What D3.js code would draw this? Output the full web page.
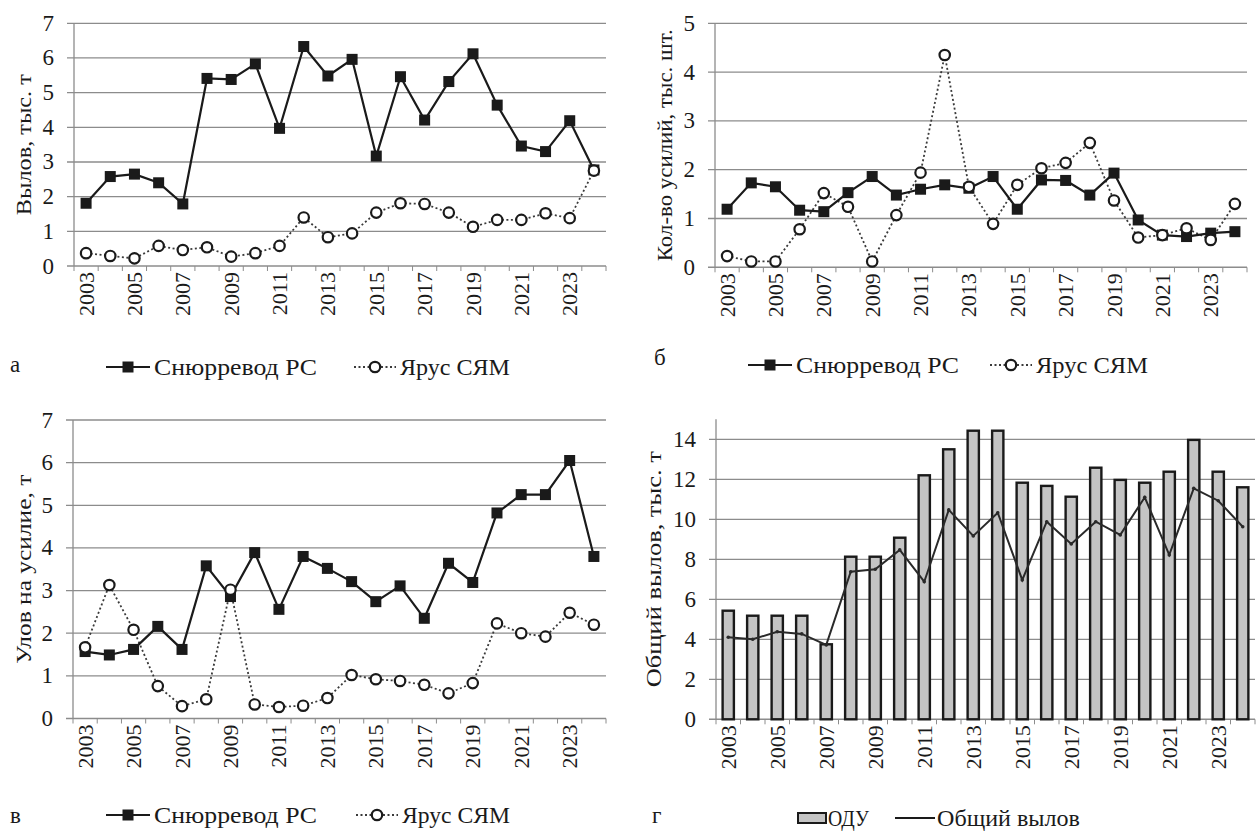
<!DOCTYPE html>
<html>
<head>
<meta charset="utf-8">
<script src="https://cdn.jsdelivr.net/npm/d3@7"></script>
<style>
  html, body { margin: 0; padding: 0; background: #ffffff; }
  svg { display: block; }
</style>
</head>
<body>
<svg id="chart" width="1260" height="832"></svg>
<script>
// Years on the category axis
const years = [2003, 2004, 2005, 2006, 2007, 2008, 2009, 2010, 2011, 2012, 2013,
               2014, 2015, 2016, 2017, 2018, 2019, 2020, 2021, 2022, 2023, 2024];
const yearLabels = ["2003", "2005", "2007", "2009", "2011", "2013", "2015", "2017", "2019", "2021", "2023"];

// а — catch, thousand t
const catchSnurr    = [1.81, 2.58, 2.65, 2.40, 1.79, 5.41, 5.38, 5.83, 3.97, 6.33, 5.48,
                       5.96, 3.17, 5.46, 4.21, 5.32, 6.12, 4.64, 3.46, 3.30, 4.19, 2.77];
const catchLongline = [0.37, 0.29, 0.22, 0.58, 0.46, 0.54, 0.27, 0.37, 0.58, 1.40, 0.83,
                       0.94, 1.54, 1.81, 1.79, 1.54, 1.13, 1.33, 1.33, 1.52, 1.38, 2.75];

// б — number of fishing efforts, thousand
const effortSnurr    = [1.19, 1.73, 1.65, 1.17, 1.14, 1.53, 1.86, 1.48, 1.60, 1.69, 1.62,
                        1.86, 1.19, 1.79, 1.78, 1.48, 1.93, 0.97, 0.66, 0.63, 0.70, 0.73];
const effortLongline = [0.23, 0.12, 0.12, 0.78, 1.52, 1.24, 0.12, 1.07, 1.94, 4.35, 1.65,
                        0.89, 1.69, 2.03, 2.14, 2.55, 1.37, 0.61, 0.66, 0.80, 0.56, 1.30];

// в — catch per effort, t
const cpueSnurr    = [1.57, 1.49, 1.62, 2.16, 1.62, 3.58, 2.86, 3.89, 2.56, 3.80, 3.52,
                      3.21, 2.74, 3.11, 2.35, 3.64, 3.19, 4.82, 5.25, 5.25, 6.05, 3.80];
const cpueLongline = [1.67, 3.13, 2.08, 0.76, 0.29, 0.45, 3.02, 0.33, 0.27, 0.30, 0.48,
                      1.02, 0.92, 0.88, 0.79, 0.59, 0.83, 2.23, 2.00, 1.92, 2.48, 2.20];

// г — TAC and total catch, thousand t
const tac        = [5.43, 5.18, 5.18, 5.18, 3.75, 8.13, 8.13, 9.08, 12.2, 13.5, 14.43,
                    14.43, 11.83, 11.67, 11.13, 12.58, 11.97, 11.83, 12.38, 13.97, 12.38, 11.6];
const totalCatch = [4.10, 4.00, 4.38, 4.27, 3.72, 7.38, 7.50, 8.47, 6.88, 10.47, 9.17,
                    10.33, 6.97, 9.88, 8.77, 9.88, 9.22, 11.10, 8.22, 11.55, 10.93, 9.63];

const seriesNames = ["Снюрревод РС", "Ярус СЯМ"];
const barNames = ["ОДУ", "Общий вылов"];

const FONT = '"Liberation Serif"';
const svg = d3.select("#chart");
const GRID = "#8c8c8c";
const INK = "#1a1a1a";

function label(sel, size) {
  return sel.style("font-family", FONT).attr("font-size", size).attr("fill", INK);
}
function stretch(sel, len) {
  if (len) sel.attr("textLength", len).attr("lengthAdjust", "spacingAndGlyphs");
  return sel;
}

function frame(p) {
  const g = svg.append("g");
  const x = d3.scaleBand().domain(years).range([p.x0, p.x1]).paddingInner(p.pad || 0).paddingOuter((p.pad || 0) / 2);
  const xb = d3.scaleBand().domain(years).range([p.x0, p.x1]);
  const y = d3.scaleLinear().domain([0, p.max]).range([p.y0, p.y1]);

  // horizontal gridlines (with outside ticks)
  g.selectAll("line.grid").data(p.ticks.filter(t => t > 0)).join("line")
    .attr("x1", p.x0 - 7).attr("x2", p.x1)
    .attr("y1", d => y(d)).attr("y2", d => y(d))
    .attr("stroke", GRID).attr("stroke-width", 1.3);

  // value axis
  g.append("line").attr("x1", p.x0).attr("x2", p.x0)
    .attr("y1", y(p.max)).attr("y2", p.y0)
    .attr("stroke", GRID).attr("stroke-width", 1.3);
  // category axis
  g.append("line").attr("x1", p.x0 - 7).attr("x2", p.x1)
    .attr("y1", p.y0).attr("y2", p.y0)
    .attr("stroke", GRID).attr("stroke-width", 1.5);
  // tick marks between categories
  const bounds = years.map(yr => xb(yr)).concat([p.x1]);
  g.selectAll("line.tick").data(bounds).join("line")
    .attr("x1", d => d).attr("x2", d => d)
    .attr("y1", p.y0).attr("y2", p.y0 + 5)
    .attr("stroke", GRID).attr("stroke-width", 1);

  // value tick labels
  label(g.selectAll("text.yt").data(p.ticks).join("text"), 23)
    .attr("x", p.x0 - 20).attr("y", d => y(d))
    .attr("text-anchor", "end").attr("dominant-baseline", "central")
    .text(d => d);

  // year labels, rotated
  label(g.selectAll("text.xt").data(yearLabels).join("text"), 22)
    .attr("transform", d => `translate(${xb(+d) + xb.bandwidth() / 2},${p.y0 + 6}) rotate(-90)`)
    .attr("text-anchor", "end").attr("dominant-baseline", "central")
    .text(d => d);

  // axis title
  stretch(label(g.append("text"), 22), p.titleLen)
    .attr("transform", `translate(${p.titleX},${(p.y0 + y(p.max)) / 2}) rotate(-90)`)
    .attr("text-anchor", "middle").attr("dominant-baseline", "central")
    .text(p.title);

  // panel letter
  label(g.append("text"), 23).attr("x", p.letterX).attr("y", p.letterY)
    .attr("dominant-baseline", "central").text(p.letter);

  return { g, x, xb, y };
}

function linePanel(p, snurr, longline) {
  const { g, xb, y } = frame(p);
  const cx = i => xb(years[i]) + xb.bandwidth() / 2;
  const line = d3.line().x((d, i) => cx(i)).y(d => y(d));

  g.append("path").datum(longline).attr("d", line)
    .attr("fill", "none").attr("stroke", "#3a3a3a").attr("stroke-width", 1.8)
    .attr("stroke-dasharray", "2,2.5");
  g.append("path").datum(snurr).attr("d", line)
    .attr("fill", "none").attr("stroke", INK).attr("stroke-width", 2.2);

  g.selectAll("rect.m").data(snurr).join("rect")
    .attr("x", (d, i) => cx(i) - 5.5).attr("y", d => y(d) - 5.5)
    .attr("width", 11).attr("height", 11).attr("fill", INK);
  g.selectAll("circle.m").data(longline).join("circle")
    .attr("cx", (d, i) => cx(i)).attr("cy", d => y(d)).attr("r", 5.2)
    .attr("fill", "#fff").attr("stroke", INK).attr("stroke-width", 2.2);

  // legend
  const ly = p.legendY, L = p.legend;
  g.append("line").attr("x1", L[0]).attr("x2", L[0] + 44).attr("y1", ly).attr("y2", ly)
    .attr("stroke", INK).attr("stroke-width", 2.2);
  g.append("rect").attr("x", L[0] + 22 - 5.5).attr("y", ly - 5.5).attr("width", 11).attr("height", 11).attr("fill", INK);
  stretch(label(g.append("text"), 23), p.legendLen[0])
    .attr("x", L[0] + 48).attr("y", ly).attr("dominant-baseline", "central")
    .text(seriesNames[0]);
  g.append("line").attr("x1", L[1]).attr("x2", L[1] + 42).attr("y1", ly).attr("y2", ly)
    .attr("stroke", "#3a3a3a").attr("stroke-width", 1.8).attr("stroke-dasharray", "2,2.5");
  g.append("circle").attr("cx", L[1] + 21).attr("cy", ly).attr("r", 5.2)
    .attr("fill", "#fff").attr("stroke", INK).attr("stroke-width", 2.2);
  stretch(label(g.append("text"), 23), p.legendLen[1])
    .attr("x", L[1] + 46).attr("y", ly).attr("dominant-baseline", "central")
    .text(seriesNames[1]);
}

function barPanel(p, bars, total) {
  const { g, x, xb, y } = frame(p);
  const cx = i => xb(years[i]) + xb.bandwidth() / 2;

  g.selectAll("rect.bar").data(bars).join("rect")
    .attr("x", (d, i) => x(years[i])).attr("width", x.bandwidth())
    .attr("y", d => y(d)).attr("height", d => p.y0 - y(d))
    .attr("fill", "#c4c4c4").attr("stroke", INK).attr("stroke-width", 2.4);

  g.append("path").datum(total)
    .attr("d", d3.line().x((d, i) => cx(i)).y(d => y(d)))
    .attr("fill", "none").attr("stroke", "#2a2a2a").attr("stroke-width", 2);
  g.selectAll("circle.pt").data(total).join("circle")
    .attr("cx", (d, i) => cx(i)).attr("cy", d => y(d)).attr("r", 1.8).attr("fill", "#2a2a2a");

  // legend
  const ly = p.legendY, L = p.legend;
  g.append("rect").attr("x", L[0]).attr("y", ly - 5).attr("width", 28).attr("height", 10)
    .attr("fill", "#c4c4c4").attr("stroke", INK).attr("stroke-width", 2);
  stretch(label(g.append("text"), 23), p.legendLen[0])
    .attr("x", L[0] + 30).attr("y", ly).attr("dominant-baseline", "central")
    .text(barNames[0]);
  g.append("line").attr("x1", L[1]).attr("x2", L[1] + 40).attr("y1", ly).attr("y2", ly)
    .attr("stroke", INK).attr("stroke-width", 2);
  stretch(label(g.append("text"), 23), p.legendLen[1])
    .attr("x", L[1] + 42).attr("y", ly).attr("dominant-baseline", "central")
    .text(barNames[1]);
}

linePanel({
  x0: 74, x1: 606, y0: 266, y1: 23.3, max: 7, ticks: [0, 1, 2, 3, 4, 5, 6, 7],
  title: "Вылов, тыс. т", titleX: 23, titleLen: 141, letter: "а", letterX: 10, letterY: 364,
  legendY: 367, legend: [106, 354], legendLen: [163, 110]
}, catchSnurr, catchLongline);

linePanel({
  x0: 715, x1: 1247, y0: 267.3, y1: 23.3, max: 5, ticks: [0, 1, 2, 3, 4, 5],
  title: "Кол-во  усилий, тыс. шт.", titleX: 664, titleLen: 232, letter: "б", letterX: 654, letterY: 357,
  legendY: 365, legend: [748, 990], legendLen: [163, 112]
}, effortSnurr, effortLongline);

linePanel({
  x0: 73, x1: 606, y0: 718.5, y1: 420, max: 7, ticks: [0, 1, 2, 3, 4, 5, 6, 7],
  title: "Улов на усилие, т", titleX: 23, titleLen: 189, letter: "в", letterX: 10, letterY: 815,
  legendY: 815, legend: [106, 356], legendLen: [163, 108]
}, cpueSnurr, cpueLongline);

barPanel({
  x0: 716, x1: 1255, y0: 719.3, y1: 419.3, max: 15, ticks: [0, 2, 4, 6, 8, 10, 12, 14],
  pad: 0.54, title: "Общий вылов, тыс. т", titleX: 653, titleLen: 236, letter: "г", letterX: 652, letterY: 815,
  legendY: 818, legend: [798, 895], legendLen: [41, 143]
}, tac, totalCatch);
</script>
</body>
</html>
